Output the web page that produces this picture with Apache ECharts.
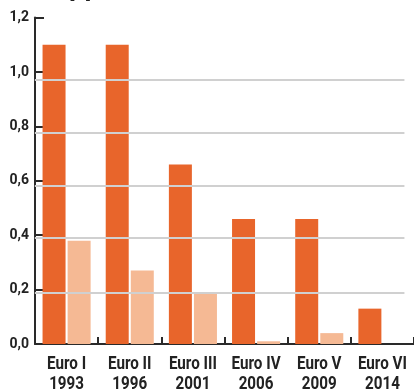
<!DOCTYPE html>
<html>
<head>
<meta charset="utf-8">
<script src="https://cdn.jsdelivr.net/npm/echarts@6/dist/echarts.min.js"></script>
<style>
html,body{margin:0;padding:0;background:#fff;}
#chart{width:414px;height:391px;}
</style>
</head>
<body>
<div id="chart"></div>
<script>
const categoryNames = ['Euro I', 'Euro II', 'Euro III', 'Euro IV', 'Euro V', 'Euro VI'];
const categoryYears = ['1993', '1996', '2001', '2006', '2009', '2014'];
const darkValues = [1.1, 1.1, 0.66, 0.46, 0.46, 0.13];
const lightValues = [0.38, 0.27, 0.19, 0.01, 0.04, 0];
const gridLineValues = [0.19, 0.39, 0.58, 0.775, 0.97];
const yTicks = { min: 0, max: 1.2, interval: 0.2 };

const FONT = 'Roboto, "DejaVu Sans Condensed", sans-serif';
const categories = categoryNames.map((n, i) => n + '\n' + categoryYears[i]);
const chart = echarts.init(document.getElementById('chart'), null, { renderer: 'canvas' });
chart.setOption({
  animation: false,
  backgroundColor: '#ffffff',
  title: {
    text: 'Utsläpp',
    left: 6,
    top: -22,
    padding: 0,
    textStyle: { fontFamily: '"DejaVu Sans Condensed", sans-serif', fontWeight: 'bold', fontSize: 24, color: '#222' }
  },
  grid: { left: 35, right: -2, top: 17.6, bottom: 47, containLabel: false },
  xAxis: {
    type: 'category',
    data: categories,
    axisLine: { show: true, lineStyle: { color: '#2a2a2a', width: 2 } },
    axisTick: { show: true, inside: true, length: 7, lineStyle: { color: '#2a2a2a', width: 2 } },
    axisLabel: { show: false },
    splitLine: { show: false }
  },
  yAxis: {
    type: 'value',
    min: yTicks.min,
    max: yTicks.max,
    interval: yTicks.interval,
    axisLine: { show: true, lineStyle: { color: '#2a2a2a', width: 2 } },
    axisTick: { show: true, inside: true, length: 9, lineStyle: { color: '#2a2a2a', width: 2 } },
    axisLabel: {
      margin: 6,
      fontFamily: FONT,
      fontWeight: 'bold',
      fontSize: 14,
      color: '#222',
      formatter: v => v.toFixed(1).replace('.', ',')
    },
    splitLine: { show: false }
  },
  series: [
    {
      id: 'grid-lines',
      type: 'line',
      data: [],
      z: 1,
      silent: true
    },
    {
      type: 'bar',
      data: darkValues,
      barWidth: 23,
      barGap: '9%',
      itemStyle: { color: '#e8652b' },
      z: 3
    },
    {
      type: 'bar',
      data: lightValues,
      barWidth: 23,
      barGap: '9%',
      itemStyle: { color: '#f5b994' },
      z: 3
    }
  ]
});

// Second pass: gridlines and condensed category labels placed via the axis scales
function finishLayout() {
  const elements = [];
  const yZero = chart.convertToPixel({ yAxisIndex: 0 }, 0);
  const xStart = chart.convertToPixel({ xAxisIndex: 0 }, categories[0]) - 31.75;
  const xEnd = chart.convertToPixel({ xAxisIndex: 0 }, categories[5]) + 22;
  categories.forEach((c, i) => {
    const x = chart.convertToPixel({ xAxisIndex: 0 }, c);
    [categoryNames[i], categoryYears[i]].forEach((t, k) => {
      elements.push({
        type: 'text',
        x: x,
        y: yZero + 20 + k * 20.5,
        scaleX: 0.8,
        silent: true,
        style: {
          text: t,
          fontFamily: FONT,
          fontWeight: 'bold',
          fontSize: 19,
          fill: '#222',
          align: 'center',
          verticalAlign: 'middle'
        }
      });
    });
  });
  chart.setOption({
    graphic: elements,
    series: [{
      id: 'grid-lines',
      markLine: {
        silent: true,
        symbol: 'none',
        label: { show: false },
        lineStyle: { color: '#d0d0d0', width: 2, type: 'solid' },
        data: gridLineValues.map(v => {
          const y = chart.convertToPixel({ yAxisIndex: 0 }, v);
          return [{ x: xStart, y: y }, { x: xEnd, y: y }];
        })
      }
    }]
  });
}
finishLayout();
</script>
</body>
</html>
